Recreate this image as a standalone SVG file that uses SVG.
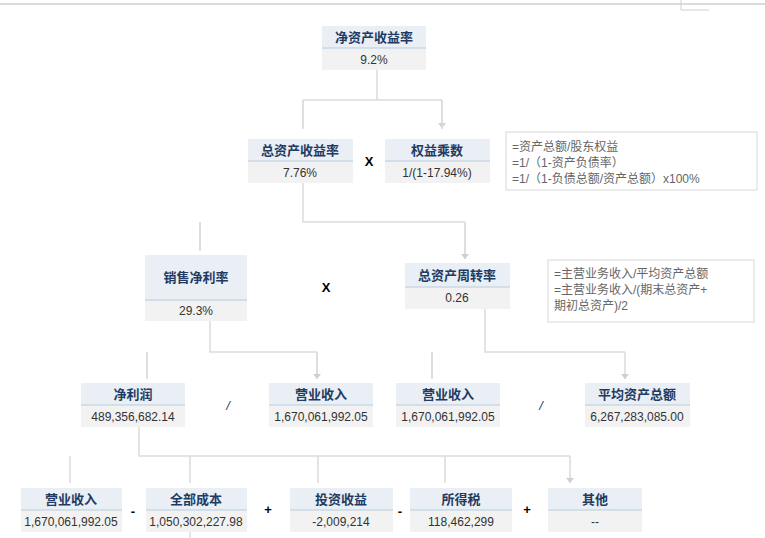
<svg xmlns="http://www.w3.org/2000/svg" width="765" height="538" viewBox="0 0 765 538">
<style>
.t{fill:#e9eff4}.v{fill:#f2f2f2}.sep{stroke:#c8d8e6;stroke-width:1.5}
.tt{font-family:"Noto Sans CJK SC","Liberation Sans",sans-serif;font-size:13px;font-weight:bold;fill:#1f3b63;text-anchor:middle}
.vt{font-family:"Liberation Sans","Noto Sans CJK SC",sans-serif;font-size:12px;fill:#333;text-anchor:middle}
.op{font-family:"Liberation Sans",sans-serif;font-size:13px;font-weight:bold;fill:#000;text-anchor:middle}
.fx{font-family:"Liberation Sans","Noto Sans CJK SC",sans-serif;font-size:12px;fill:#666}
.c{fill:none;stroke:#dcdcdc;stroke-width:1.5}
</style>
<defs><marker id="a" markerWidth="8" markerHeight="6" refX="4" refY="5" orient="auto" markerUnits="userSpaceOnUse"><path d="M0,0L8,0L4,5z" fill="#cfcfcf" transform="rotate(-90 4 3) translate(0 0)"/></marker>
<marker id="d" markerWidth="8" markerHeight="6" refX="4" refY="5" markerUnits="userSpaceOnUse"><path d="M0,0L8,0L4,5z" fill="#cfcfcf"/></marker></defs>
<rect width="765" height="538" fill="#fff"/>
<line x1="0" y1="4" x2="765" y2="4" stroke="#cfcfcf" stroke-width="1.5"/>
<path d="M681,0V10H709" stroke="#cfcfcf" fill="none"/>
<g id="connectors" class="c">
<path d="M377,70V100M303,100H442M303,100V128M442,100V128" marker-end="url(#d)"/>
<path d="M303,129V100M442,129V100"/>
<path d="M303,183V222H465M200,222V250M465,222V258" />
<path d="M200,222V251M465,222V259" marker-end="url(#d)"/>
<path d="M210,321V352H317M147,352V378M317,352V378" />
<path d="M147,352V379M317,352V379" marker-end="url(#d)"/>
<path d="M485,309V352H625M432,352V378" />
<path d="M432,352V379M625,352V379" marker-end="url(#d)"/>
<path d="M139,427V456H570" />
<path d="M70,456V483M190,456V483M318,456V483M445,456V483M570,456V483" marker-end="url(#d)"/>
<path d="M190,532V538"/>
</g>
<g id="n1"><rect class="t" x="322" y="26" width="104" height="22"/><rect class="v" x="322" y="48" width="104" height="22"/><line class="sep" x1="322" y1="48" x2="426" y2="48"/><text class="tt" x="374" y="42">净资产收益率</text><text class="vt" x="374" y="64">9.2%</text></g>
<g id="n2"><rect class="t" x="248" y="139" width="105" height="22"/><rect class="v" x="248" y="161" width="105" height="22"/><line class="sep" x1="248" y1="161" x2="353" y2="161"/><text class="tt" x="300" y="155">总资产收益率</text><text class="vt" x="300" y="177">7.76%</text></g>
<g id="n3"><rect class="t" x="385" y="139" width="105" height="22"/><rect class="v" x="385" y="161" width="105" height="22"/><line class="sep" x1="385" y1="161" x2="490" y2="161"/><text class="tt" x="437" y="155">权益乘数</text><text class="vt" x="437" y="177">1/(1-17.94%)</text></g>
<g id="f1"><rect x="506" y="132" width="251" height="58" fill="#fff" stroke="#d8d8d8"/><text class="fx" x="512" y="151">=资产总额/股东权益</text><text class="fx" x="512" y="167">=1/（1-资产负债率）</text><text class="fx" x="512" y="183">=1/（1-负债总额/资产总额）x100%</text></g>
<text class="op" x="369" y="166">X</text>
<g id="n4"><rect class="t" x="145" y="255" width="102" height="45"/><rect class="v" x="145" y="300" width="102" height="21"/><line class="sep" x1="145" y1="300" x2="247" y2="300"/><text class="tt" x="196" y="282">销售净利率</text><text class="vt" x="196" y="315">29.3%</text></g>
<g id="n5"><rect class="t" x="405" y="263" width="105" height="24"/><rect class="v" x="405" y="287" width="105" height="22"/><line class="sep" x1="405" y1="287" x2="510" y2="287"/><text class="tt" x="457" y="280">总资产周转率</text><text class="vt" x="457" y="302">0.26</text></g>
<text class="op" x="326" y="292">X</text>
<g id="f2"><rect x="548" y="260" width="206" height="62" fill="#fff" stroke="#d8d8d8"/><text class="fx" x="554" y="278">=主营业务收入/平均资产总额</text><text class="fx" x="554" y="294">=主营业务收入/(期末总资产+</text><text class="fx" x="554" y="310">期初总资产)/2</text></g>
<g id="n6"><rect class="t" x="81" y="383" width="104" height="22"/><rect class="v" x="81" y="405" width="104" height="22"/><line class="sep" x1="81" y1="405" x2="185" y2="405"/><text class="tt" x="133" y="399">净利润</text><text class="vt" x="133" y="421">489,356,682.14</text></g>
<g id="n7"><rect class="t" x="269" y="383" width="104" height="22"/><rect class="v" x="269" y="405" width="104" height="22"/><line class="sep" x1="269" y1="405" x2="373" y2="405"/><text class="tt" x="321" y="399">营业收入</text><text class="vt" x="321" y="421">1,670,061,992.05</text></g>
<g id="n8"><rect class="t" x="396" y="383" width="104" height="22"/><rect class="v" x="396" y="405" width="104" height="22"/><line class="sep" x1="396" y1="405" x2="500" y2="405"/><text class="tt" x="448" y="399">营业收入</text><text class="vt" x="448" y="421">1,670,061,992.05</text></g>
<g id="n9"><rect class="t" x="585" y="383" width="105" height="22"/><rect class="v" x="585" y="405" width="105" height="22"/><line class="sep" x1="585" y1="405" x2="690" y2="405"/><text class="tt" x="637" y="399">平均资产总额</text><text class="vt" x="637" y="421">6,267,283,085.00</text></g>
<text class="op" x="228" y="410" style="font-weight:normal;font-style:italic;fill:#1f3b63">/</text>
<text class="op" x="541" y="410" style="font-weight:normal;font-style:italic;fill:#1f3b63">/</text>
<g id="n10"><rect class="t" x="21" y="488" width="101" height="22"/><rect class="v" x="21" y="510" width="101" height="22"/><line class="sep" x1="21" y1="510" x2="122" y2="510"/><text class="tt" x="71" y="504">营业收入</text><text class="vt" x="71" y="526">1,670,061,992.05</text></g>
<g id="n11"><rect class="t" x="146" y="488" width="101" height="22"/><rect class="v" x="146" y="510" width="101" height="22"/><line class="sep" x1="146" y1="510" x2="247" y2="510"/><text class="tt" x="196" y="504">全部成本</text><text class="vt" x="196" y="526">1,050,302,227.98</text></g>
<g id="n12"><rect class="t" x="290" y="488" width="103" height="22"/><rect class="v" x="290" y="510" width="103" height="22"/><line class="sep" x1="290" y1="510" x2="393" y2="510"/><text class="tt" x="341" y="504">投资收益</text><text class="vt" x="341" y="526">-2,009,214</text></g>
<g id="n13"><rect class="t" x="410" y="488" width="102" height="22"/><rect class="v" x="410" y="510" width="102" height="22"/><line class="sep" x1="410" y1="510" x2="512" y2="510"/><text class="tt" x="461" y="504">所得税</text><text class="vt" x="461" y="526">118,462,299</text></g>
<g id="n14"><rect class="t" x="548" y="488" width="94" height="22"/><rect class="v" x="548" y="510" width="94" height="22"/><line class="sep" x1="548" y1="510" x2="642" y2="510"/><text class="tt" x="595" y="504">其他</text><text class="vt" x="595" y="526">--</text></g>
<text class="op" x="133" y="516">-</text><text class="op" x="268" y="514">+</text><text class="op" x="400" y="516">-</text><text class="op" x="527" y="514">+</text>
</svg>
